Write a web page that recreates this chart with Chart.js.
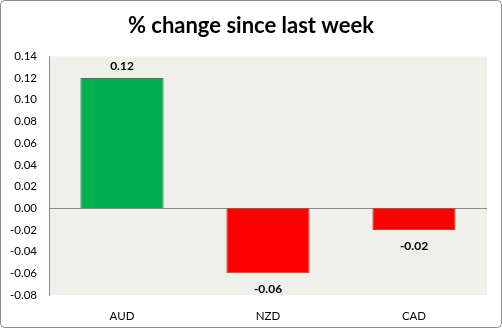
<!DOCTYPE html>
<html>
<head>
<meta charset="utf-8">
<script src="https://cdn.jsdelivr.net/npm/chart.js@4"></script>
<style>
    html, body { margin: 0; padding: 0; background: #ffffff; }
    #wrap { width: 502px; height: 328px; }
</style>
</head>
<body>
<div id="wrap"><canvas id="change-chart" width="502" height="328"></canvas></div>
<script>
// % change since last week

// Data
const currencies = ['AUD', 'NZD', 'CAD'];
const weeklyChange = [0.12, -0.06, -0.02];
const barColors = ['#00b050', '#ff0000', '#ff0000'];
const barBorders = ['#3d7f4f', '#a0522d', '#a0522d'];
const yMin = -0.08;
const yMax = 0.14;
const yStep = 0.02;

const labelFont = 'Lato, "Open Sans", sans-serif';

/**
 * Fill plot area background and draw the outer frame
 */
const backgroundPlugin = {
    id: 'plotBackground',
    beforeDraw(chart) {
        const { ctx, chartArea } = chart;
        ctx.save();
        ctx.fillStyle = '#eff0ea';
        ctx.fillRect(chartArea.left, chartArea.top,
            chartArea.right - chartArea.left, chartArea.bottom - chartArea.top);
        ctx.restore();
    },
    afterDraw(chart) {
        const ctx = chart.ctx;
        ctx.save();
        ctx.strokeStyle = '#8c8c8c';
        ctx.lineWidth = 1;
        ctx.beginPath();
        ctx.roundRect(0.5, 0.5, chart.width - 1, chart.height - 1, 4);
        ctx.stroke();
        ctx.restore();
    }
};

/**
 * Write the value next to each bar
 */
const valueLabelPlugin = {
    id: 'valueLabels',
    afterDatasetsDraw(chart) {
        const ctx = chart.ctx;
        const meta = chart.getDatasetMeta(0);
        ctx.save();
        ctx.font = 'bold 12px ' + labelFont;
        ctx.fillStyle = '#000000';
        ctx.textAlign = 'center';
        ctx.textBaseline = 'middle';
        meta.data.forEach((bar, i) => {
            const value = weeklyChange[i];
            const y = value >= 0 ? bar.y - 12 : bar.y + 16;
            ctx.fillText(value.toFixed(2), bar.x, y);
        });
        ctx.restore();
    }
};

const ctx = document.getElementById('change-chart').getContext('2d');

new Chart(ctx, {
    type: 'bar',
    data: {
        labels: currencies,
        datasets: [{
            data: weeklyChange,
            backgroundColor: barColors,
            borderColor: barBorders,
            borderWidth: 1,
            categoryPercentage: 0.57,
            barPercentage: 1
        }]
    },
    options: {
        responsive: false,
        animation: false,
        layout: {
            padding: 0
        },
        plugins: {
            legend: { display: false },
            tooltip: { enabled: false },
            title: {
                display: true,
                text: '% change since last week',
                color: '#000000',
                font: { family: labelFont, size: 22, weight: 'bold' },
                padding: { top: 13, bottom: 17 }
            }
        },
        scales: {
            x: {
                grid: { display: false },
                border: { display: false },
                ticks: {
                    color: '#000000',
                    font: { family: labelFont, size: 11.5 },
                    padding: 6
                },
                afterFit(scale) { scale.height = 33; }
            },
            y: {
                min: yMin,
                max: yMax,
                grid: {
                    drawTicks: false,
                    color: context => Math.abs(context.tick.value) < 1e-9 ? '#8c8c8c' : 'rgba(0,0,0,0)'
                },
                border: { display: true, color: '#8c8c8c' },
                ticks: {
                    stepSize: yStep,
                    color: '#000000',
                    font: { family: labelFont, size: 11.5 },
                    padding: 12,
                    callback: value => value.toFixed(2)
                },
                afterFit(scale) { scale.width = 49; }
            },
            // empty spacer on the right so the title stays centred on the canvas
            spacer: {
                position: 'right',
                grid: { display: false },
                border: { display: false },
                ticks: { display: false },
                afterFit(scale) { scale.width = 15; }
            }
        }
    },
    plugins: [backgroundPlugin, valueLabelPlugin]
});
</script>
</body>
</html>
